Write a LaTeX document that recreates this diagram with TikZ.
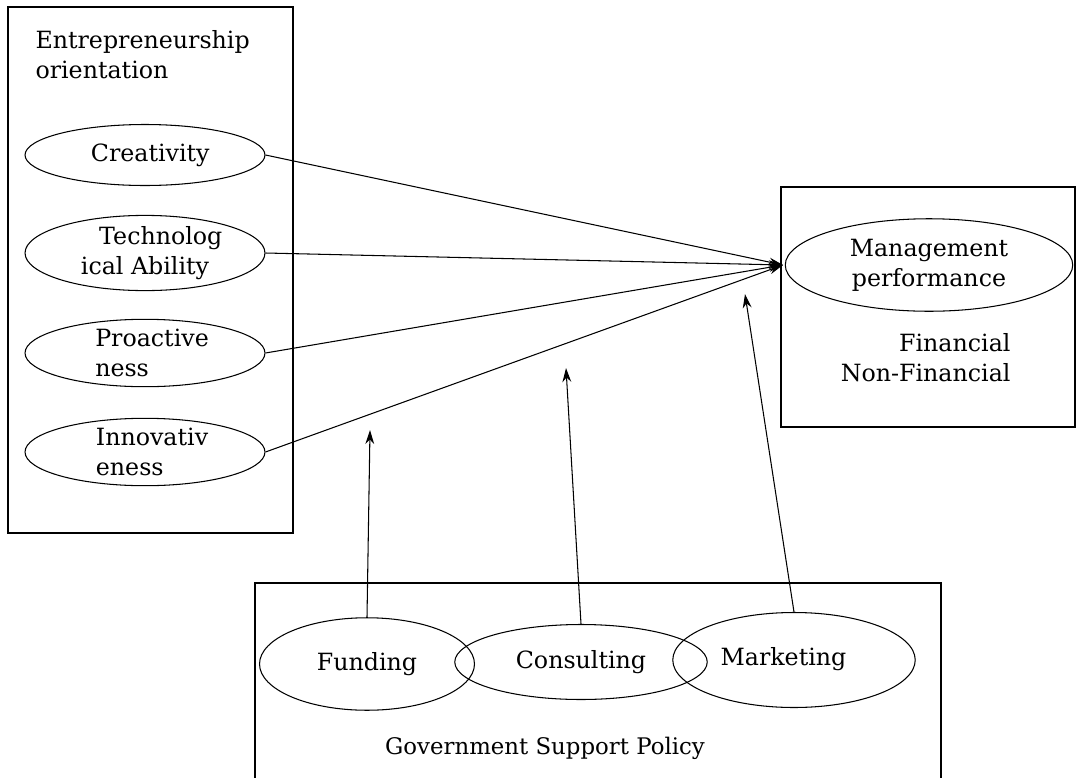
\documentclass[tikz,border=0pt]{standalone}
\usepackage{fontspec}
\setmainfont{DejaVu Serif}
\usetikzlibrary{shapes.geometric,arrows.meta}
\begin{document}
\begin{tikzpicture}[x=0.02cm,y=-0.02cm,line width=0.6pt,
  every node/.style={font=\fontsize{13.5}{17}\selectfont, inner sep=0pt},
  oval/.style={draw, ellipse, minimum width=4.8cm, minimum height=1.22cm},
  arr/.style={-{Stealth[length=8pt,width=5pt]}}]
\useasboundingbox (0,0) rectangle (1076,778);
% outer frames
\draw (8,7) rectangle (293,533);
\draw (781,187) rectangle (1075,427);
\draw (255,583) rectangle (941,790);
% entrepreneurship orientation
\node[anchor=north west, align=left] (eo) at (35,30) {Entrepreneurship\\orientation};
\node[oval] (cre) at (145,155) {\hspace{6pt}Creativity};
\node[oval, align=center] (tec) at (145,253) {\hspace{18pt}Technolog\\ical Ability};
\node[oval, align=left] (pro) at (145,353) {\hspace{8pt}Proactive\\\hspace{8pt}ness};
\node[oval, align=left] (inn) at (145,452) {\hspace{8pt}Innovativ\\\hspace{8pt}eness};
% management performance
\node[oval, minimum width=5.75cm, minimum height=1.85cm, align=center] (perf) at (929,265) {Management\\performance};
\node[align=right, anchor=north east] (fin) at (1011,333) {Financial\\Non-Financial};
% government support policy
\node[oval, minimum width=4.3cm, minimum height=1.85cm] (fund) at (367,664) {\raisebox{-6pt}{Funding}};
\node[oval, minimum width=5.05cm, minimum height=1.5cm] (con) at (581,662) {Consulting};
\node[oval, minimum width=4.85cm, minimum height=1.9cm] (mkt) at (794,660) {\hspace{-12pt}\raisebox{4pt}{Marketing}};
\node (gsp) at (545,748) {\fontsize{13}{16}\selectfont Government Support Policy};
% paths into management performance
\coordinate (hub) at (783,265);
\draw[arr] (cre.east) -- (hub);
\draw[arr] (tec.east) -- (hub);
\draw[arr] (pro.east) -- (hub);
\draw[arr] (inn.east) -- (hub);
% moderating effects
\coordinate (m1) at (370,430);
\coordinate (m2) at (566,368);
\coordinate (m3) at (745,294);
\draw[arr] (fund.north) -- (m1);
\draw[arr] (con.north) -- (m2);
\draw[arr] (mkt.north) -- (m3);
\end{tikzpicture}
\end{document}
